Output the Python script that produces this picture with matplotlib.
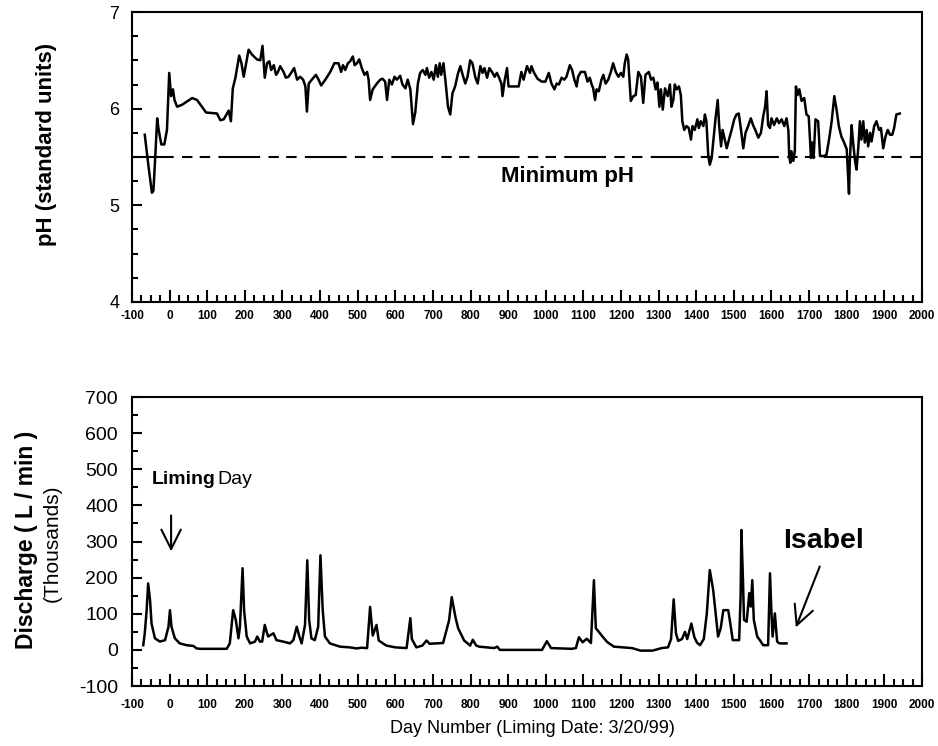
import matplotlib
matplotlib.use('Agg')
import matplotlib.pyplot as plt
from matplotlib.ticker import MultipleLocator

plt.rcParams['font.family'] = ['Liberation Sans', 'DejaVu Sans']
plt.rcParams['axes.unicode_minus'] = False

# pH record (day number relative to liming, pH)
ph_day = [-66, -56, -47, -43, -38, -33, -29, -22, -14, -7, -1, 4, 9, 13, 20, 33, 60, 73,
          97, 126, 135, 144, 157, 163, 168, 175, 185, 191, 197, 210, 219, 232, 241, 247,
          253, 259, 265, 270, 277, 283, 288, 294, 303, 309, 316, 323, 331, 339, 347, 355,
          361, 365, 370, 378, 389, 396, 403, 414, 427, 438, 449, 456, 461, 467, 474, 480,
          487, 492, 498, 504, 511, 518, 525, 529, 533, 540, 551, 560, 566, 573, 578, 584,
          591, 598, 604, 613, 619, 627, 633, 640, 647, 653, 660, 666, 673, 680, 684, 690,
          696, 702, 708, 713, 718, 722, 728, 733, 740, 746, 752, 759, 767, 773, 779, 786,
          792, 799, 805, 813, 819, 826, 832, 837, 844, 850, 857, 864, 870, 876, 882, 885,
          891, 897, 901, 910, 928, 935, 941, 950, 958, 962, 969, 978, 989, 999, 1008, 1015,
          1023, 1029, 1035, 1042, 1049, 1055, 1064, 1070, 1076, 1082, 1086, 1093, 1104,
          1111, 1117, 1122, 1126, 1131, 1135, 1141, 1148, 1153, 1159, 1166, 1173, 1179,
          1186, 1193, 1200, 1206, 1210, 1215, 1219, 1226, 1233, 1239, 1246, 1253, 1259,
          1265, 1274, 1280, 1286, 1292, 1297, 1302, 1306, 1311, 1317, 1324, 1330, 1334,
          1339, 1343, 1348, 1354, 1359, 1363, 1368, 1374, 1380, 1386, 1390, 1396, 1403,
          1407, 1412, 1419, 1423, 1427, 1432, 1436, 1441, 1445, 1451, 1457, 1461, 1466,
          1470, 1474, 1481, 1487, 1494, 1501, 1507, 1513, 1519, 1525, 1531, 1538, 1545,
          1551, 1558, 1565, 1572, 1578, 1583, 1587, 1591, 1596, 1600, 1607, 1614, 1620,
          1627, 1634, 1640, 1645, 1647, 1650, 1653, 1658, 1662, 1665, 1669, 1674, 1680,
          1687, 1693, 1699, 1705, 1708, 1712, 1717, 1724, 1729, 1738, 1746, 1753, 1760,
          1767, 1773, 1779, 1786, 1793, 1800, 1806, 1808, 1813, 1817, 1822, 1826, 1831,
          1835, 1839, 1844, 1848, 1853, 1857, 1862, 1866, 1873, 1879, 1886, 1891, 1897,
          1903, 1909, 1915, 1921, 1926, 1932, 1941]
ph_val = [5.73, 5.40, 5.13, 5.15, 5.51, 5.90, 5.78, 5.63, 5.63, 5.78, 6.37, 6.13, 6.20, 6.09,
          6.02, 6.04, 6.11, 6.09, 5.96, 5.95, 5.88, 5.89, 5.98, 5.87, 6.21, 6.32, 6.55, 6.47,
          6.33, 6.61, 6.56, 6.51, 6.50, 6.65, 6.32, 6.47, 6.49, 6.40, 6.45, 6.35, 6.38, 6.44,
          6.38, 6.32, 6.33, 6.37, 6.42, 6.30, 6.33, 6.30, 6.23, 5.97, 6.26, 6.30, 6.35, 6.30,
          6.24, 6.30, 6.38, 6.47, 6.47, 6.38, 6.45, 6.40, 6.47, 6.49, 6.54, 6.45, 6.47, 6.51,
          6.42, 6.35, 6.38, 6.30, 6.09, 6.20, 6.26, 6.30, 6.31, 6.28, 6.09, 6.30, 6.25, 6.33,
          6.30, 6.34, 6.25, 6.21, 6.30, 6.20, 5.84, 5.96, 6.26, 6.37, 6.40, 6.35, 6.42, 6.32,
          6.38, 6.30, 6.45, 6.33, 6.47, 6.35, 6.47, 6.30, 6.02, 5.94, 6.16, 6.23, 6.37, 6.44,
          6.35, 6.26, 6.33, 6.50, 6.47, 6.32, 6.26, 6.44, 6.37, 6.42, 6.32, 6.42, 6.38, 6.33,
          6.37, 6.32, 6.26, 6.13, 6.30, 6.42, 6.23, 6.23, 6.23, 6.38, 6.30, 6.44, 6.37, 6.44,
          6.37, 6.31, 6.28, 6.28, 6.37, 6.26, 6.20, 6.26, 6.25, 6.32, 6.30, 6.33, 6.45, 6.40,
          6.30, 6.23, 6.33, 6.38, 6.38, 6.28, 6.32, 6.25, 6.21, 6.09, 6.20, 6.18, 6.30, 6.35,
          6.26, 6.30, 6.38, 6.47, 6.38, 6.33, 6.37, 6.33, 6.47, 6.56, 6.51, 6.08, 6.13, 6.14,
          6.38, 6.33, 6.06, 6.35, 6.38, 6.30, 6.32, 6.20, 6.27, 6.02, 6.20, 5.99, 6.21, 6.13,
          6.25, 6.02, 6.09, 6.25, 6.20, 6.23, 6.14, 5.87, 5.78, 5.82, 5.80, 5.68, 5.82, 5.78,
          5.89, 5.80, 5.87, 5.82, 5.94, 5.87, 5.51, 5.42, 5.49, 5.65, 5.89, 6.09, 5.82, 5.61,
          5.78, 5.71, 5.59, 5.68, 5.78, 5.89, 5.94, 5.95, 5.78, 5.59, 5.75, 5.82, 5.90, 5.83,
          5.77, 5.70, 5.75, 5.92, 6.02, 6.18, 5.83, 5.80, 5.90, 5.83, 5.90, 5.85, 5.89, 5.82,
          5.90, 5.77, 5.51, 5.44, 5.56, 5.46, 5.56, 6.23, 6.14, 6.20, 6.08, 6.11, 5.94, 5.92,
          5.49, 5.65, 5.49, 5.89, 5.87, 5.51, 5.51, 5.52, 5.68, 5.87, 6.13, 5.99, 5.82, 5.71,
          5.65, 5.58, 5.12, 5.44, 5.83, 5.65, 5.46, 5.37, 5.61, 5.87, 5.68, 5.87, 5.65, 5.78,
          5.61, 5.75, 5.66, 5.82, 5.87, 5.78, 5.80, 5.59, 5.71, 5.78, 5.73, 5.73, 5.80, 5.94,
          5.95]

min_ph = 5.5

# discharge record (thousand L/min)
q_day = [-70, -66, -61, -57, -52, -48, -39, -26, -12, -3, 1, 5, 14, 27, 45, 63, 72, 81, 152,
         160, 169, 176, 183, 187, 194, 198, 205, 214, 227, 233, 240, 246, 253, 258, 262, 276,
         284, 302, 320, 329, 338, 345, 351, 360, 366, 371, 377, 386, 395, 401, 407, 413, 426,
         453, 479, 497, 510, 525, 533, 540, 550, 556, 576, 600, 630, 640, 644, 656, 672, 683,
         691, 727, 743, 750, 760, 767, 783, 799, 806, 815, 823, 863, 871, 878, 990, 1003, 1014,
         1069, 1080, 1088, 1098, 1109, 1120, 1128, 1133, 1141, 1150, 1163, 1181, 1229, 1252,
         1284, 1308, 1325, 1333, 1340, 1346, 1352, 1362, 1370, 1376, 1387, 1395, 1402, 1410,
         1420, 1428, 1436, 1445, 1458, 1465, 1472, 1485, 1491, 1497, 1514, 1518, 1520, 1524,
         1527, 1534, 1541, 1545, 1549, 1553, 1562, 1569, 1578, 1591, 1596, 1600, 1603, 1609,
         1612, 1615, 1621, 1640]
q_val = [13, 46, 110, 184, 138, 73, 32, 23, 27, 64, 110, 64, 32, 18, 13, 11, 4, 3, 3,
         18, 110, 83, 32, 64, 226, 110, 37, 18, 23, 37, 23, 23, 69, 50, 37, 46,
         27, 23, 18, 27, 64, 37, 18, 69, 248, 83, 32, 27, 64, 262, 110, 37, 18,
         9, 7, 4, 6, 5, 119, 40, 69, 26, 12, 7, 5, 88, 30, 7, 12, 26,
         17, 19, 82, 146, 90, 60, 26, 12, 28, 12, 9, 5, 9, 0, 0, 24, 5,
         3, 5, 35, 21, 31, 19, 193, 60, 50, 38, 22, 9, 5, -2,
         -2, 5, 7, 30, 140, 46, 25, 30, 50, 30, 73, 35, 20, 13,
         30, 100, 221, 166, 37, 60, 110, 110, 70, 27, 27, 150, 332, 200,
         83, 78, 157, 120, 193, 83, 37, 27, 13, 13, 212, 100, 37, 101,
         60, 23, 18, 18]

fig = plt.figure(figsize=(9.38, 7.46), dpi=100)
ax1 = fig.add_axes([0.1407, 0.5952, 0.8422, 0.3887])
ax2 = fig.add_axes([0.1407, 0.0804, 0.8422, 0.3874])

for ax in (ax1, ax2):
    ax.set_xlim(-100, 2000)
    ax.xaxis.set_major_locator(MultipleLocator(100))
    ax.xaxis.set_minor_locator(MultipleLocator(25))
    for s in ax.spines.values():
        s.set_linewidth(1.5)
    ax.tick_params(which='both', direction='in', width=1.5, top=False, right=False)
    ax.tick_params(axis='x', which='major', length=8.5)
    ax.tick_params(axis='x', which='minor', length=5)
    ax.tick_params(axis='y', which='major', length=7)
    ax.tick_params(axis='y', which='minor', length=4.5)

# top: pH
ax1.plot(ph_day, ph_val, color='black', lw=1.8)
ax1.axhline(min_ph, color='black', lw=1.5, linestyle=(0, (20, 4, 5, 3.5, 5, 4)))
ax1.set_ylim(4, 7)
ax1.yaxis.set_major_locator(MultipleLocator(1))
ax1.yaxis.set_minor_locator(MultipleLocator(0.25))
ax1.tick_params(axis='y', labelsize=13, pad=9)
ax1.tick_params(axis='x', pad=6)
ax1.text(1059, 5.24, 'Minimum pH', fontsize=16, fontweight='bold', ha='center', va='baseline')

# bottom: discharge
ax2.plot(q_day, q_val, color='black', lw=1.8)
ax2.set_ylim(-100, 700)
ax2.yaxis.set_major_locator(MultipleLocator(100))
ax2.yaxis.set_minor_locator(MultipleLocator(50))
ax2.tick_params(axis='y', labelsize=14, pad=10)
ax2.tick_params(axis='x', pad=9)

ax2.text(-47, 459, 'Liming', fontsize=14, fontweight='bold', va='baseline')
ax2.text(128, 459, 'Day', fontsize=14, va='baseline')
ax2.annotate('', xy=(4, 265), xytext=(4, 380),
             arrowprops=dict(arrowstyle='->,head_length=1.0,head_width=0.5',
                             mutation_scale=14, lw=1.5, color='black'))
ax2.text(1630, 282, 'Isabel', fontsize=20.5, fontweight='bold', va='baseline')
ax2.annotate('', xy=(1662, 55), xytext=(1731, 238),
             arrowprops=dict(arrowstyle='->,head_length=1.0,head_width=0.5',
                             mutation_scale=14, lw=1.5, color='black'))

for lab in ax1.get_xticklabels() + ax2.get_xticklabels():
    lab.set_fontweight('bold')
    lab.set_fontsize(8.5)

fig.text(0.050, 0.807, 'pH (standard units)', rotation=90, fontsize=16,
         fontweight='bold', ha='center', va='center')
fig.text(0.028, 0.276, 'Discharge ( L / min )', rotation=90, fontsize=16.5,
         fontweight='bold', ha='center', va='center')
fig.text(0.056, 0.272, '(Thousands)', rotation=90, fontsize=15,
         ha='center', va='center')
fig.text(0.568, 0.024, 'Day Number (Liming Date: 3/20/99)', fontsize=13,
         ha='center', va='center')

fig.savefig('out.png', dpi=100)
